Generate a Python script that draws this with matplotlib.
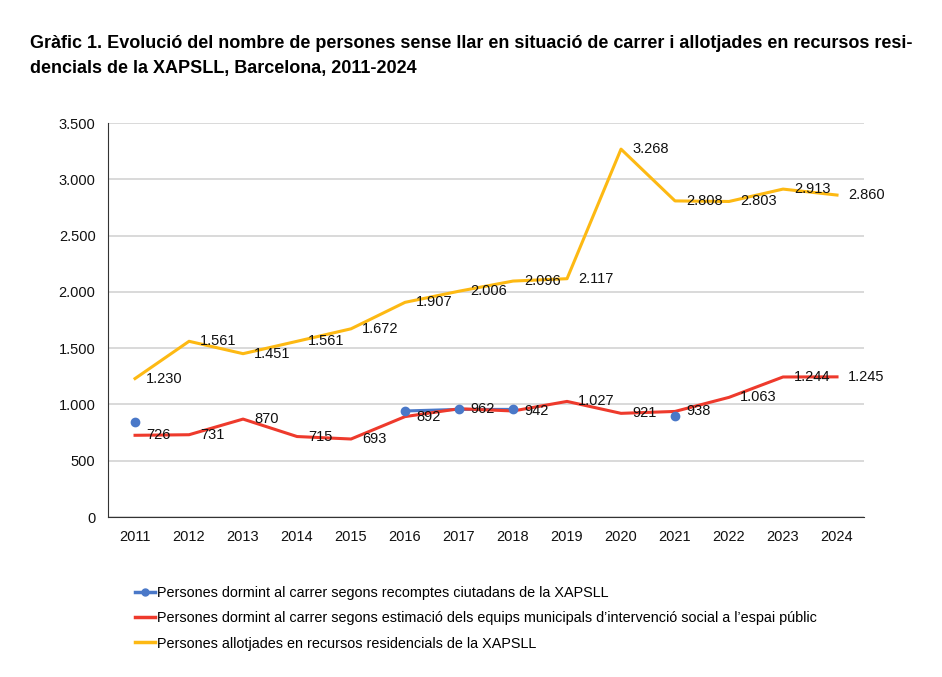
import matplotlib
matplotlib.use("Agg")
import matplotlib.pyplot as plt

plt.rcParams['font.family'] = ['Liberation Sans', 'DejaVu Sans']

years = [2011, 2012, 2013, 2014, 2015, 2016, 2017, 2018, 2019, 2020, 2021, 2022, 2023, 2024]
recomptes = [840, None, None, None, None, 942, 956, 956, None, None, 895, None, None, None]
estimacio = [726, 731, 870, 715, 693, 892, 962, 942, 1027, 921, 938, 1063, 1244, 1245]
allotjades = [1230, 1561, 1451, 1561, 1672, 1907, 2006, 2096, 2117, 3268, 2808, 2803, 2913, 2860]

labels = [
    "Persones dormint al carrer segons recomptes ciutadans de la XAPSLL",
    "Persones dormint al carrer segons estimació dels equips municipals d\u2019intervenció social a l\u2019espai públic",
    "Persones allotjades en recursos residencials de la XAPSLL",
]
title1 = "Gràfic 1. Evolució del nombre de persones sense llar en situació de carrer i allotjades en recursos resi-"
title2 = "dencials de la XAPSLL, Barcelona, 2011-2024"

c_blue = "#4A78C8"
c_red = "#EE3A2C"
c_yel = "#FDB913"


def fmt(v):
    return "{:,}".format(v).replace(",", ".")


fig = plt.figure(figsize=(9.42, 6.77), dpi=100)
ax = fig.add_axes([0.1147, 0.2363, 0.8025, 0.582])

xs = list(range(len(years)))
xb = [x for x, v in zip(xs, recomptes) if v is not None]
vb = [v for v in recomptes if v is not None]

# blue: dots, with line only between consecutive years
yb = [float('nan') if v is None else v for v in recomptes]
ax.plot(xs, yb, color=c_blue, lw=2.2, zorder=3)
ax.scatter(xb, vb, color=c_blue, s=36, zorder=4)
ax.plot(xs, estimacio, color=c_red, lw=2.2, zorder=3)
ax.plot(xs, allotjades, color=c_yel, lw=2.2, zorder=3)

for serie in (estimacio, allotjades):
    for x, v in zip(xs, serie):
        ax.annotate(fmt(v), (x, v), xytext=(8, 0), textcoords="offset points",
                    ha="left", va="center", fontsize=10.5, color="#111111", zorder=5)

ax.set_xlim(-0.5, len(years) - 0.5)
ax.set_ylim(0, 3500)
ax.set_yticks(range(0, 3501, 500))
ax.set_yticklabels([fmt(v) for v in range(0, 3501, 500)])
ax.set_xticks(xs)
ax.set_xticklabels([str(y) for y in years])
ax.tick_params(length=0, labelsize=10.5, pad=9, colors="#111111")
ax.grid(axis="y", color="#D0D0D0", lw=1.1)
ax.set_axisbelow(True)
for s in ["top", "right"]:
    ax.spines[s].set_visible(False)
ax.spines["left"].set_color("#333333")
ax.spines["bottom"].set_color("#333333")

fig.text(0.032, 1 - 43 / 677, title1, fontsize=13, fontweight="bold", ha="left", va="center")
fig.text(0.032, 1 - 69 / 677, title2, fontsize=13, fontweight="bold", ha="left", va="center")

handles = [
    plt.Line2D([], [], color=c_blue, lw=2.5, marker="o", ms=5),
    plt.Line2D([], [], color=c_red, lw=2.5),
    plt.Line2D([], [], color=c_yel, lw=2.5),
]
fig.legend(handles, labels, loc="upper left", bbox_to_anchor=(0.1433, 0.134),
           bbox_transform=fig.transFigure, frameon=False, fontsize=10.4,
           handlelength=1.4, handletextpad=0.15, labelspacing=0.77,
           borderaxespad=0, borderpad=0)

fig.savefig("out.png", dpi=100)
